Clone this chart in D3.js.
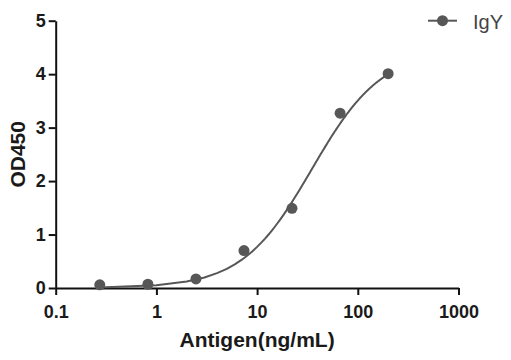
<!DOCTYPE html>
<html><head><meta charset="utf-8">
<script src="https://cdn.jsdelivr.net/npm/d3@7"></script>
<style>
html,body{margin:0;padding:0;background:#fff;}
svg{display:block;}
text{font-family:"Liberation Sans",Arial,sans-serif;}
</style></head>
<body><svg id="c" width="511" height="360"></svg>
<script>
// Data
const concentrations = [0.274, 0.823, 2.47, 7.41, 22.2, 66.7, 200];
const od450 = [0.06, 0.07, 0.17, 0.70, 1.49, 3.27, 4.01];
const seriesName = "IgY";
// 4PL fit parameters [bottom, top, EC50, hill] estimated from the drawn curve
const fitParams = [0.0, 4.45, 35, 1.25];
const xTickValues = [0.1, 1, 10, 100, 1000];
const xTickLabels = ["0.1", "1", "10", "100", "1000"];
const yTickValues = [0, 1, 2, 3, 4, 5];

const svg = d3.select("#c");
const color = "#575757";
const x = d3.scaleLog().domain([0.1, 1000]).range([55.7, 458.5]);
const y = d3.scaleLinear().domain([0, 5]).range([288, 20.7]);

const xAxis = svg.append("g").attr("transform", "translate(0,288)")
  .call(d3.axisBottom(x).tickValues(xTickValues)
    .tickFormat((d, i) => xTickLabels[i]).tickSize(7).tickSizeOuter(0).tickPadding(10));
const yAxis = svg.append("g").attr("transform", "translate(55.7,0)")
  .call(d3.axisLeft(y).tickValues(yTickValues).tickFormat(d3.format("d"))
    .tickSize(7).tickSizeOuter(0).tickPadding(3));
[xAxis, yAxis].forEach(g => {
  g.selectAll("path,line").attr("stroke", "#111").attr("stroke-width", 2);
  g.selectAll("text").attr("fill", "#1a1a1a").style("font-size", "18px").style("font-weight", "bold");
  g.attr("font-family", null).attr("font-size", null);
});

// fitted curve
const [B, T, C, H] = fitParams;
const f = c => B + (T - B) / (1 + Math.pow(C / c, H));
const lx = d3.scaleLog().domain([concentrations[0], concentrations[concentrations.length - 1]]);
const curvePts = lx.ticks(200).concat([concentrations[0], concentrations[concentrations.length-1]])
  .sort((a, b) => a - b).map(c => [c, f(c)]);
svg.append("path").datum(curvePts)
  .attr("fill", "none").attr("stroke", color).attr("stroke-width", 2)
  .attr("d", d3.line().x(d => x(d[0])).y(d => y(d[1])));

svg.append("g").selectAll("circle").data(concentrations).join("circle")
  .attr("cx", d => x(d)).attr("cy", (d, i) => y(od450[i])).attr("r", 5.5).attr("fill", color);

// titles
svg.append("text").attr("x", (x.range()[0] + x.range()[1]) / 2).attr("y", 347)
  .attr("text-anchor", "middle").style("font-size", "21px").style("font-weight", "bold")
  .attr("fill", "#1a1a1a").text("Antigen(ng/mL)");
svg.append("text").attr("transform", `translate(25,${(y.range()[0] + y.range()[1]) / 2}) rotate(-90)`)
  .attr("text-anchor", "middle").style("font-size", "21px").style("font-weight", "bold")
  .attr("fill", "#1a1a1a").text("OD450");

// legend
const lg = svg.append("g");
lg.append("line").attr("x1", 428).attr("x2", 457).attr("y1", 20.7).attr("y2", 20.7)
  .attr("stroke", color).attr("stroke-width", 2);
lg.append("circle").attr("cx", 442.5).attr("cy", 20.7).attr("r", 5.5).attr("fill", color);
lg.append("text").attr("x", 473).attr("y", 28.5).style("font-size", "20px")
  .attr("fill", "#444").text(seriesName);
</script></body></html>
